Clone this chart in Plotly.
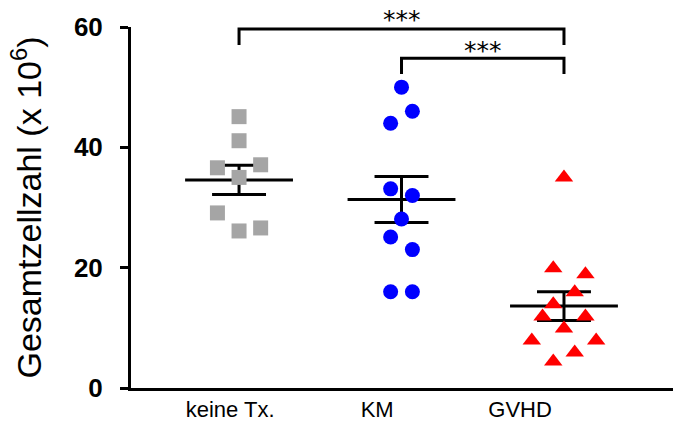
import numpy as np
import plotly.graph_objects as go

# ---------------- data ----------------
categories = ["keine Tx.", "KM", "GVHD"]
keine_tx = [45.1, 41.1, 36.6, 37.1, 35.0, 29.1, 26.1, 26.6]
km = [50.0, 46.0, 44.0, 33.1, 32.0, 28.1, 25.1, 23.0, 16.0, 16.0]
gvhd = [35.0, 19.9, 18.9, 15.9, 13.9, 11.9, 11.9, 9.9, 7.9, 7.9, 5.9, 4.4]
y_ticks = [0, 20, 40, 60]
y_title = "Gesamtzellzahl (x 10<sup>6</sup>)"
comparisons = [("keine Tx.", "GVHD", "***"), ("KM", "GVHD", "***")]

# jitter columns (layout of the dot plot)
keine_cols = [0, 0, -1, 1, 0, -1, 0, 1]
km_cols = [0, 1, -1, -1, 1, 0, -1, 1, -1, 1]
gvhd_cols = [0, -1, 2, 1, -1, -2, 2, 0, -3, 3, 1, -1]
# category label positions along x (labels sit left of the groups in the original)
label_pos = [-0.055, 0.85, 1.73]

groups = [
    dict(name="keine Tx.", values=keine_tx, cols=keine_cols, step=0.133,
         symbol="square", color="#A5A5A5", size=15),
    dict(name="KM", values=km, cols=km_cols, step=0.067,
         symbol="circle", color="#0000FF", size=15),
    dict(name="GVHD", values=gvhd, cols=gvhd_cols, step=0.066,
         symbol="triangle-up", color="#FF0000", size=16),
]

Y_RANGE = [0, 60]

fig = go.Figure()
LW = 3
mean_half = 0.332
cap_half = 0.166

# mean +/- SEM lines (drawn below markers)
for i, g in enumerate(groups):
    v = np.array(g["values"], dtype=float)
    m = v.mean()
    sem = v.std(ddof=1) / np.sqrt(len(v))
    xs = [i - mean_half, i + mean_half, None,
          i - cap_half, i + cap_half, None,
          i - cap_half, i + cap_half, None,
          i, i]
    ys = [m, m, None,
          m + sem, m + sem, None,
          m - sem, m - sem, None,
          m + sem, m - sem]
    fig.add_trace(go.Scatter(x=xs, y=ys, mode="lines",
                             line=dict(color="black", width=LW),
                             hoverinfo="skip", showlegend=False))

# points
for i, g in enumerate(groups):
    xs = [i + c * g["step"] for c in g["cols"]]
    fig.add_trace(go.Scatter(
        x=xs, y=g["values"], mode="markers", name=g["name"],
        marker=dict(symbol=g["symbol"], color=g["color"], size=g["size"],
                    line=dict(width=0)),
        showlegend=False))

# significance brackets
bracket_levels = [(59.65, 57.0), (54.8, 52.2)]
star_y = [61.3, 56.1]
for (a, b, label), (top, bottom), sy in zip(comparisons, bracket_levels, star_y):
    xa = categories.index(a)
    xb = categories.index(b)
    fig.add_trace(go.Scatter(x=[xa, xa, xb, xb], y=[bottom, top, top, bottom],
                             mode="lines", line=dict(color="black", width=LW),
                             hoverinfo="skip", showlegend=False, cliponaxis=False))
    fig.add_annotation(x=(xa + xb) / 2, xref="x",
                       y=(sy - Y_RANGE[0]) / (Y_RANGE[1] - Y_RANGE[0]), yref="paper",
                       text=label, showarrow=False,
                       font=dict(family="DejaVu Sans", size=25, color="black"),
                       xanchor="center", yanchor="middle")

fig.update_layout(
    width=673, height=430,
    margin=dict(l=131, r=0, t=27, b=42),
    paper_bgcolor="white", plot_bgcolor="white",
    showlegend=False,
)
fig.update_xaxes(
    range=[-0.665, 2.671], automargin=False,
    tickvals=label_pos, ticktext=categories,
    showline=True, linecolor="black", linewidth=LW,
    ticks="", showgrid=False, zeroline=False,
    tickfont=dict(family="Liberation Sans, Arial", size=22, color="black"),
)
fig.update_yaxes(
    range=Y_RANGE, tickvals=y_ticks, automargin=False,
    showline=True, linecolor="black", linewidth=LW,
    ticks="outside", ticklen=8, tickwidth=LW, tickcolor="black",
    showgrid=False, zeroline=False,
    tickfont=dict(family="Liberation Sans, Arial", size=26, color="black", weight="bold"),
    ticklabelstandoff=12,
    title=dict(text=y_title, font=dict(family="Liberation Sans, Arial", size=34, color="black"),
               standoff=22),
)

fig.write_html("out.html", config={"displayModeBar": False},
               post_script="document.body.style.margin='0';document.body.style.padding='0';")
